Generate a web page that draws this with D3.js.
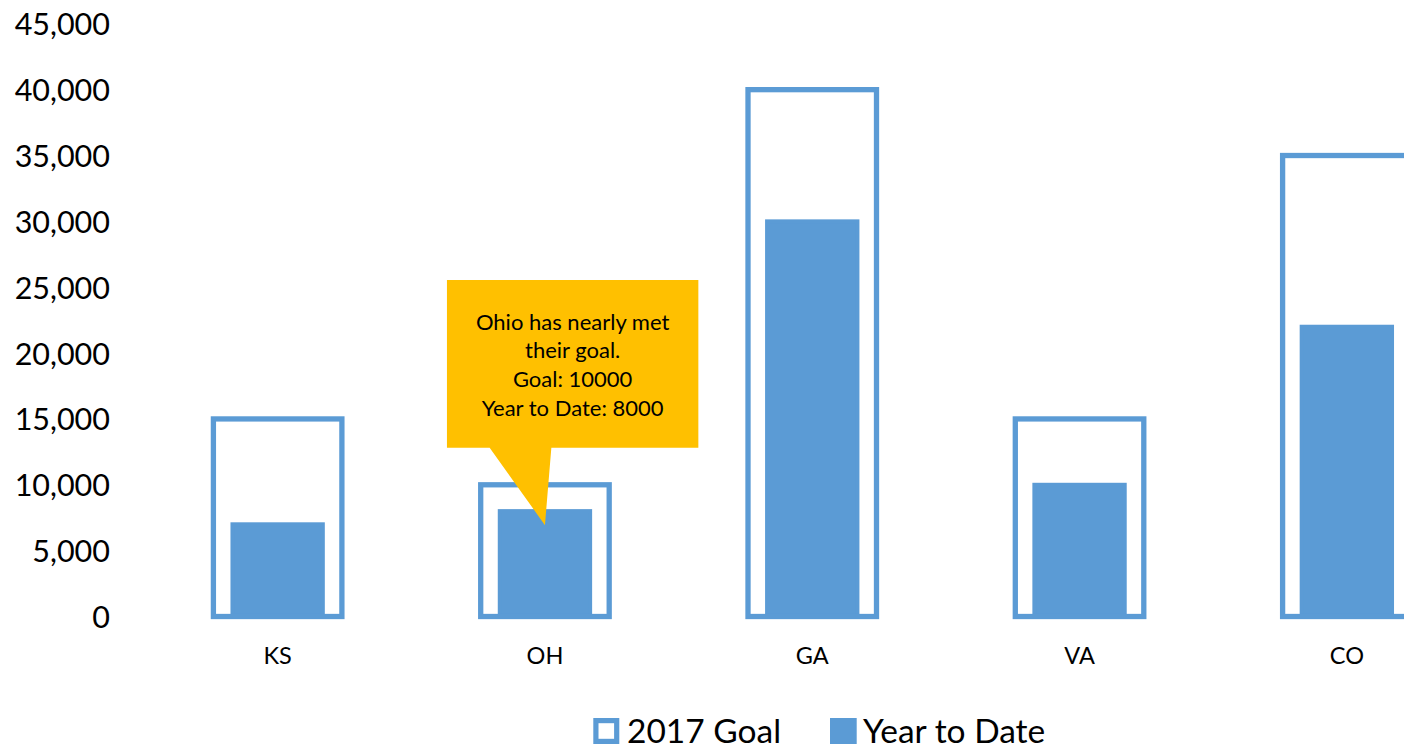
<!DOCTYPE html>
<html>
<head>
<meta charset="utf-8">
<script src="https://cdn.jsdelivr.net/npm/d3@7"></script>
<style>
  html, body { margin: 0; padding: 0; background: #fff; overflow: hidden; }
  svg { display: block; font-family: Lato, "Open Sans", sans-serif; }
</style>
</head>
<body>
<svg id="chart" width="1404" height="744"></svg>
<script>
// ---- data ----
const categories = ["KS", "OH", "GA", "VA", "CO"];
const goalValues = [15000, 10000, 40000, 15000, 35000];
const ytdValues  = [7000, 8000, 30000, 10000, 22000];
const yTicks     = [0, 5000, 10000, 15000, 20000, 25000, 30000, 35000, 40000, 45000];
const seriesNames = ["2017 Goal", "Year to Date"];
const calloutLines = ["Ohio has nearly met", "their goal.", "Goal: 10000", "Year to Date: 8000"];
const calloutCategory = "OH";

const BLUE = "#5B9BD5";
const GOLD = "#FFC000";

const svg = d3.select("#chart");

const x = d3.scaleBand().domain(categories).range([144, 1480.5]).padding(0);
const y = d3.scaleLinear().domain([0, 45000]).range([616.5, 23.8]);

// y axis labels (no line, no ticks)
const yAxis = d3.axisLeft(y).tickValues(yTicks).tickFormat(d3.format(",")).tickSize(0).tickPadding(0);
const yg = svg.append("g").attr("transform", "translate(110,0)").call(yAxis);
yg.select(".domain").remove();
yg.selectAll("text").attr("font-size", 30.5).attr("font-family", "Lato, sans-serif").attr("fill", "#000").attr("dy", "0.36em");

// x axis labels
const xAxis = d3.axisBottom(x).tickSize(0).tickPadding(0);
const xg = svg.append("g").attr("transform", "translate(0,655.5)").call(xAxis);
xg.select(".domain").remove();
xg.selectAll("text").attr("font-size", 23.5).attr("font-family", "Lato, sans-serif").attr("fill", "#000").attr("dy", "0.36em");

const bw = x.bandwidth();
const innerW = bw * 0.338;
const outerW = bw * 0.4807;

const data = categories.map((c, i) => ({ c, goal: goalValues[i], ytd: ytdValues[i] }));

// Year to Date bars
svg.append("g").selectAll("rect").data(data).join("rect")
  .attr("x", d => x(d.c) + bw / 2 - innerW / 2)
  .attr("width", innerW)
  .attr("y", d => y(d.ytd))
  .attr("height", d => y(0) - y(d.ytd))
  .attr("fill", BLUE)
  .attr("stroke", BLUE)
  .attr("stroke-width", 4);

// Goal bars (outline)
svg.append("g").selectAll("rect").data(data).join("rect")
  .attr("x", d => x(d.c) + bw / 2 - outerW / 2)
  .attr("width", outerW)
  .attr("y", d => y(d.goal))
  .attr("height", d => y(0) - y(d.goal))
  .attr("fill", "none")
  .attr("stroke", BLUE)
  .attr("stroke-width", 5.3);

// Callout
const cx = x(calloutCategory) + bw / 2;
const cd = data.find(d => d.c === calloutCategory);
const tipY = y(cd.ytd) + 14;
const boxL = cx - 98, boxR = cx + 153.4, boxT = 280, boxB = 447.7;
const calloutPath = d3.path();
calloutPath.moveTo(boxL, boxT);
calloutPath.lineTo(boxR, boxT);
calloutPath.lineTo(boxR, boxB);
calloutPath.lineTo(cx + 6.4, boxB);
calloutPath.lineTo(cx, tipY);
calloutPath.lineTo(cx - 55.3, boxB);
calloutPath.lineTo(boxL, boxB);
calloutPath.closePath();
svg.append("path").attr("d", calloutPath.toString()).attr("fill", GOLD);

const textCx = (boxL + boxR) / 2;
svg.append("g").selectAll("text").data(calloutLines).join("text")
  .attr("x", textCx)
  .attr("y", (d, i) => 321.7 + i * 28.8)
  .attr("dy", "0.36em")
  .attr("text-anchor", "middle")
  .attr("font-size", 22)
  .attr("fill", "#000")
  .text(d => d);

// Legend
const lg = svg.append("g");
lg.append("rect").attr("x", 595.9).attr("y", 720.6).attr("width", 20.8).attr("height", 20.8)
  .attr("fill", "#fff").attr("stroke", BLUE).attr("stroke-width", 5.2);
lg.append("text").attr("x", 627).attr("y", 730.5).attr("dy", "0.36em")
  .attr("font-size", 33.5).attr("fill", "#000").text(seriesNames[0]);
lg.append("rect").attr("x", 830).attr("y", 718).attr("width", 26.7).attr("height", 26)
  .attr("fill", BLUE);
lg.append("text").attr("x", 863).attr("y", 730.5).attr("dy", "0.36em")
  .attr("font-size", 33.5).attr("fill", "#000").text(seriesNames[1]);
</script>
</body>
</html>
